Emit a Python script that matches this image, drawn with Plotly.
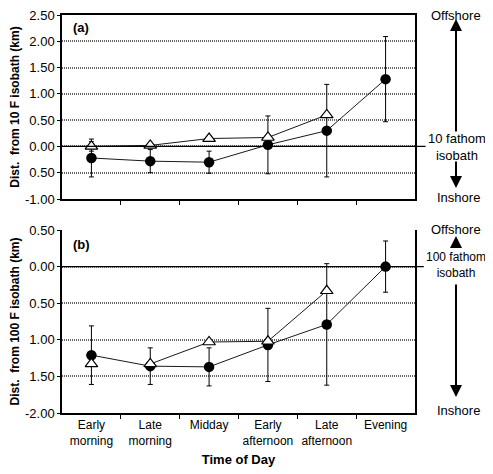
import plotly.graph_objects as go

categories = ["Early<br>morning", "Late<br>morning", "Midday",
              "Early<br>afternoon", "Late<br>afternoon", "Evening"]

# Panel (a): distance from 10 fathom isobath (km)
a_circle = [-0.22, -0.28, -0.30, 0.03, 0.30, 1.28]
a_circle_err = [0.36, 0.22, 0.21, 0.55, 0.88, 0.81]
a_tri = [0.00, 0.02, 0.15, 0.17, 0.60, None]
a_tri_err = [0.09, 0.03, 0.0, 0.0, 0.0, 0.0]

# Panel (b): distance from 100 fathom isobath (km)
b_circle = [-1.21, -1.36, -1.37, -1.07, -0.79, 0.00]
b_circle_err = [0.40, 0.25, 0.26, 0.50, 0.83, 0.35]
b_tri = [-1.33, -1.33, -1.03, -1.02, -0.33, None]
b_tri_line_start = 1  # triangles are joined from "Late morning" on in panel (b)

a_tickvals = [2.5, 2.0, 1.5, 1.0, 0.5, 0.0, -0.5, -1.0]
a_ticktext = ["2.50", "2.00", "1.50", "1.00", "0.50", "0.00", "0.50", "-1.00"]
b_tickvals = [0.5, 0.0, -0.5, -1.0, -1.5, -2.0]
b_ticktext = ["0.50", "0.00", "0.50", "1.00", "1.50", "-2.00"]

xs = list(range(len(categories)))
FONT = "Arial, Liberation Sans, sans-serif"
LINE = "#1a1a1a"

fig = go.Figure()

def add_panel(yc, yce, yt, yte, xa, ya, tri_start=0):
    fig.add_trace(go.Scatter(
        x=xs, y=yc, mode="lines+markers", xaxis=xa, yaxis=ya,
        line=dict(color=LINE, width=1),
        marker=dict(symbol="circle", size=10.5, color="black"),
        error_y=dict(type="data", array=yce, color="black", thickness=1, width=2.5),
        showlegend=False))
    # connecting line for triangles
    fig.add_trace(go.Scatter(
        x=xs[tri_start:], y=yt[tri_start:], mode="lines", xaxis=xa, yaxis=ya,
        line=dict(color=LINE, width=1), showlegend=False))
    ety = None
    if yte is not None:
        ety = dict(type="data", array=yte, color="black", thickness=1, width=2.5)
    fig.add_trace(go.Scatter(
        x=xs, y=yt, mode="markers", xaxis=xa, yaxis=ya,
        marker=dict(symbol="triangle-up", size=11, color="white",
                    line=dict(color="black", width=1.2)),
        error_y=ety, showlegend=False))

add_panel(a_circle, a_circle_err, a_tri, a_tri_err, "x", "y")
add_panel(b_circle, b_circle_err, b_tri, None, "x2", "y2", b_tri_line_start)

common_x = dict(range=[-0.5, 5.5], showline=True, linecolor="black", linewidth=1.5,
                showgrid=False, zeroline=False, tickvals=xs, automargin=False,
                ticks="", tickfont=dict(family=FONT, size=12, color="black"),
                minor=dict(tickvals=[0.5, 1.5, 2.5, 3.5, 4.5], ticks="outside",
                           ticklen=4, tickcolor="black", tickwidth=1))
grid = dict(showgrid=True, gridcolor="#666666", gridwidth=2, griddash="1px,1px",
            zeroline=False, showline=True, linecolor="black", linewidth=1.5,
            mirror=True, ticks="outside", ticklen=3, tickcolor="black", automargin=False,
            ticklabeloverflow="allow",
            tickfont=dict(family=FONT, size=13, color="black"))

# The page body has an 8px margin, so the figure is sized/offset to compensate.
TOP = 15      # page y of the plot top
BOTTOM = 413  # page y of the plot bottom
H = BOTTOM - TOP

fig.update_layout(
    width=485, height=466,
    margin=dict(l=54, r=78, t=TOP - 8, b=474 - BOTTOM),
    paper_bgcolor="white", plot_bgcolor="white",
    font=dict(family=FONT, color="black"),
    xaxis=dict(domain=[0, 1], anchor="y", mirror=True, showticklabels=False,
               ticktext=[""] * 6, **common_x),
    xaxis2=dict(domain=[0, 1], anchor="y2", ticktext=categories,
                title=dict(text="<b>Time of Day</b>", font=dict(family=FONT, size=13),
                           standoff=8), **common_x),
    yaxis=dict(domain=[(BOTTOM - 199) / H, 1], anchor="x", range=[-1.0, 2.5],
               tickvals=a_tickvals, ticktext=a_ticktext,
               title=dict(text="<b>Dist.  from 10 F isobath (km)</b>",
                          font=dict(family=FONT, size=12), standoff=6), **grid),
    yaxis2=dict(domain=[0, (BOTTOM - 230) / H], anchor="x2", range=[-2.0, 0.5],
                tickvals=b_tickvals, ticktext=b_ticktext,
                title=dict(text="<b>Dist.  from 100 F isobath (km)</b>",
                           font=dict(family=FONT, size=12), standoff=6), **grid),
)

# solid reference isobath lines extending past the plot
fig.add_shape(type="line", xref="x domain", yref="y", x0=0, x1=1.03, y0=0, y1=0,
              line=dict(color="black", width=1.2))
fig.add_shape(type="line", xref="x2 domain", yref="y2", x0=0, x1=1.025, y0=0, y1=0,
              line=dict(color="black", width=1.2))

def txt(x, y, s, size=13, bold=False):
    fig.add_annotation(x=x, y=y, xref="paper", yref="paper", text=("<b>%s</b>" % s) if bold else s,
                       showarrow=False, font=dict(family=FONT, size=size, color="black"),
                       xanchor="center", yanchor="middle")

def arrow(x, y, ay):
    fig.add_annotation(x=x, y=y, xref="paper", yref="paper", text="", showarrow=True,
                       ax=0, ay=ay, axref="pixel", ayref="pixel",
                       arrowhead=2, arrowsize=1.2, arrowwidth=2, arrowcolor="black")

# page-pixel -> paper coordinates
px = lambda p: (p - 62) / 353.0
py = lambda p: (BOTTOM - p) / float(H)

# Panel labels
txt(px(81), py(27), "(a)", 13, True)
txt(px(81), py(245), "(b)", 13, True)

# Right side annotations (a)
txt(px(456), py(15.5), "Offshore")
arrow(px(456), py(19), 114)
txt(px(457), py(147), "10 fathom<br>isobath")
arrow(px(456), py(188), -28)
txt(px(458), py(197), "Inshore")

# Right side annotations (b)
txt(px(456), py(229), "Offshore")
arrow(px(456), py(236), 11)
txt(px(456), py(265), "100 fathom<br>isobath", 12)
arrow(px(456), py(397), -114)
txt(px(458), py(410), "Inshore")

fig.write_html("out.html")
